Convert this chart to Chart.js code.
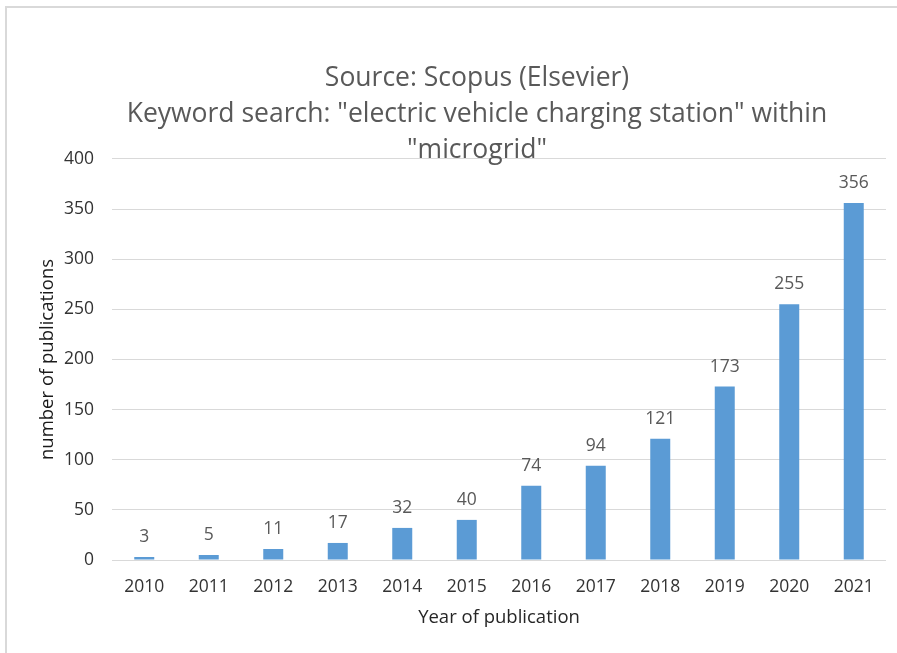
<!DOCTYPE html>
<html>
<head>
<meta charset="utf-8">
<script src="https://cdn.jsdelivr.net/npm/chart.js@4/dist/chart.umd.min.js"></script>
<style>
html,body{margin:0;padding:0;background:#fff;overflow:hidden;width:897px;height:653px;}
#frame{position:absolute;left:5px;top:6px;width:960px;height:700px;border-left:2px solid #d9d9d9;border-top:2px solid #d9d9d9;}
#wrap{position:absolute;left:7px;top:8px;width:940px;height:650px;}
</style>
</head>
<body>
<div id="frame"></div>
<div id="wrap"><canvas id="c"></canvas></div>
<script>
const years = ["2010","2011","2012","2013","2014","2015","2016","2017","2018","2019","2020","2021"];
const publications = [3,5,11,17,32,40,74,94,121,173,255,356];
const titleLines = ['Source: Scopus (Elsevier)', 'Keyword search: "electric vehicle charging station" within', '"microgrid"'];
const yTitle = 'number of publications';
const xTitle = 'Year of publication';

const FONT = '"Open Sans", "Noto Sans", sans-serif';

const dataLabels = {
  id: 'dataLabels',
  afterDatasetsDraw(chart) {
    const ctx = chart.ctx;
    const meta = chart.getDatasetMeta(0);
    ctx.save();
    ctx.font = '17.5px ' + FONT;
    ctx.fillStyle = '#595959';
    ctx.textAlign = 'center';
    ctx.textBaseline = 'middle';
    meta.data.forEach((bar, i) => {
      ctx.fillText(String(chart.data.datasets[0].data[i]), bar.x, bar.y - 20);
    });
    ctx.restore();
  }
};

// centre the chart title on the whole (cropped) chart frame, like the original
const titleCentre = {
  id: 'titleCentre',
  afterLayout(chart) {
    const tb = chart.titleBlock;
    if (tb) { tb.left = 0; tb.right = chart.width; tb.width = chart.width; }
  }
};

new Chart(document.getElementById('c'), {
  type: 'bar',
  data: {
    labels: years,
    datasets: [{
      data: publications,
      backgroundColor: '#5B9BD5',
      borderWidth: 0,
      barPercentage: 0.31,
      categoryPercentage: 1.0
    }]
  },
  options: {
    responsive: true,
    maintainAspectRatio: false,
    animation: false,
    devicePixelRatio: 1,
    layout: { padding: { left: 7, right: 61, top: 0, bottom: 29 } },
    plugins: {
      legend: { display: false },
      tooltip: { enabled: false },
      title: {
        display: true,
        text: titleLines,
        color: '#595959',
        font: { family: FONT, size: 26.5, weight: 'normal', lineHeight: 1.358 },
        padding: { top: 52, bottom: -9 }
      }
    },
    scales: {
      x: {
        grid: { display: false, drawTicks: false },
        border: { display: false },
        ticks: { color: '#333333', font: { family: FONT, size: 17.5 }, padding: 17 },
        title: { display: true, text: xTitle, color: '#262626', font: { family: FONT, size: 18.5 }, padding: { top: 0, bottom: 0 } },
        afterFit(s) { s.height = 69; }
      },
      y: {
        min: 0, max: 400,
        ticks: { stepSize: 50, color: '#333333', font: { family: FONT, size: 17.5 }, padding: 18 },
        grid: { color: '#d9d9d9', lineWidth: 1, drawTicks: false },
        border: { display: false },
        title: { display: true, text: yTitle, color: '#1a1a1a', font: { family: FONT, size: 18.5 }, padding: { top: 23, bottom: 0 } },
        afterFit(s) { s.width = 98; }
      }
    }
  },
  plugins: [dataLabels, titleCentre]
});
</script>
</body>
</html>
